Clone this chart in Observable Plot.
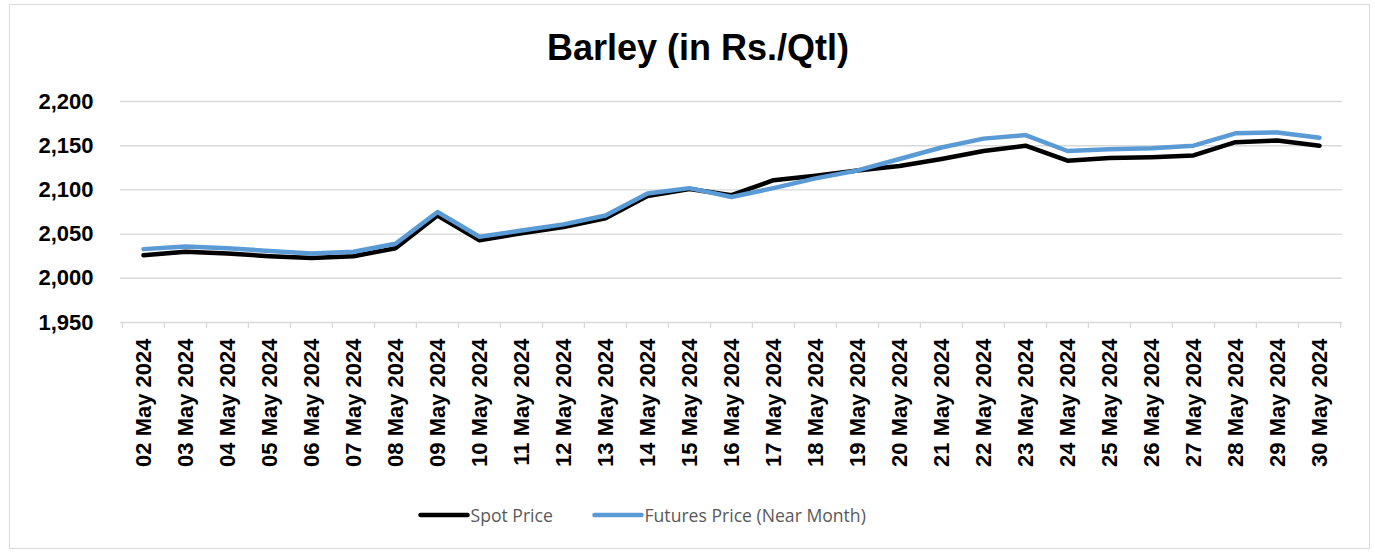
<!DOCTYPE html>
<html>
<head>
<meta charset="utf-8">
<script src="https://cdn.jsdelivr.net/npm/d3@7"></script>
<script src="https://cdn.jsdelivr.net/npm/@observablehq/plot@0.6"></script>
<style>
  html, body { margin: 0; padding: 0; background: #fff; }
  body { width: 1375px; height: 554px; position: relative; overflow: hidden; font-family: "Liberation Sans", Arial, sans-serif; }
  #frame { position: absolute; left: 9px; top: 4px; width: 1361px; height: 545px; border: 1px solid #d9d9d9; box-sizing: border-box; }
  #title { position: absolute; left: 0; width: 1396px; top: 29.5px; text-align: center; font: bold 36px/36px "Liberation Sans", Arial, sans-serif; color: #000; }
  #chart { position: absolute; left: 0; top: 0; }
  #legend .item { position: absolute; top: 503px; display: flex; align-items: center; font-family: "Open Sans", sans-serif; font-size: 17.6px; color: #595959; white-space: nowrap; }
  #legend svg { display: block; }
</style>
</head>
<body>
<div id="frame"></div>
<div id="title">Barley (in Rs./Qtl)</div>
<div id="chart"></div>
<div id="legend"></div>
<script>
const dates = ["02 May 2024","03 May 2024","04 May 2024","05 May 2024","06 May 2024","07 May 2024","08 May 2024","09 May 2024","10 May 2024","11 May 2024","12 May 2024","13 May 2024","14 May 2024","15 May 2024","16 May 2024","17 May 2024","18 May 2024","19 May 2024","20 May 2024","21 May 2024","22 May 2024","23 May 2024","24 May 2024","25 May 2024","26 May 2024","27 May 2024","28 May 2024","29 May 2024","30 May 2024"];
const spotPrice = [2026, 2030, 2028, 2025, 2023, 2025, 2034, 2071, 2043, 2051, 2058, 2068, 2093, 2101, 2094, 2111, 2116, 2122, 2127, 2135, 2144, 2150, 2133, 2136, 2137, 2139, 2154, 2156, 2150];
const futuresPrice = [2033, 2036, 2034, 2031, 2028, 2030, 2039, 2075, 2047, 2054, 2061, 2071, 2096, 2102, 2092, 2102, 2113, 2122, 2135, 2148, 2158, 2162, 2144, 2146, 2147, 2150, 2164, 2165, 2159];
const yTicks = [1950, 2000, 2050, 2100, 2150, 2200];
const seriesNames = ["Spot Price", "Futures Price (Near Month)"];
const seriesColors = ["#000000", "#5b9bd5"];

const rows = dates.map((d, i) => ({date: d, spot: spotPrice[i], futures: futuresPrice[i]}));

const W = 1375, H = 490, mL = 120, mR = 33, mT = 101, mB = 168;
const step = (W - mL - mR) / dates.length;

const chart = Plot.plot({
  width: W, height: H,
  marginTop: mT, marginBottom: mB, marginLeft: mL, marginRight: mR,
  style: {background: "transparent", fontFamily: "'Liberation Sans', Arial, sans-serif", overflow: "visible"},
  x: {type: "point", domain: dates, padding: 0.5, align: 0.5, label: null},
  y: {domain: [1950, 2200], label: null},
  marks: [
    Plot.ruleY(yTicks, {stroke: "#d9d9d9", strokeWidth: 1.4}),
    Plot.ruleX(dates, {x: d => d, y1: 1950, y2: 1950, insetBottom: -6, dx: -step / 2, stroke: "#d9d9d9", strokeWidth: 1.4}),
    Plot.ruleX([dates[dates.length - 1]], {x: d => d, y1: 1950, y2: 1950, insetBottom: -6, dx: step / 2, stroke: "#d9d9d9", strokeWidth: 1.4}),
    Plot.axisY(yTicks, {tickSize: 0, tickPadding: 27, tickFormat: d3.format(","), fontSize: 22, fontWeight: "bold", fill: "#000", label: null}),
    Plot.axisX({tickSize: 0, tickPadding: 16, tickRotate: -90, fontSize: 22, fontWeight: "bold", fill: "#000", label: null}),
    Plot.line(rows, {x: "date", y: "spot", stroke: seriesColors[0], strokeWidth: 4.5, strokeLinejoin: "round", strokeLinecap: "round"}),
    Plot.line(rows, {x: "date", y: "futures", stroke: seriesColors[1], strokeWidth: 4.5, strokeLinejoin: "round", strokeLinecap: "round"})
  ]
});
document.getElementById("chart").appendChild(chart);

const legend = document.getElementById("legend");
const itemLeft = [417.5, 591.5];
seriesNames.forEach((name, i) => {
  const item = document.createElement("div");
  item.className = "item";
  item.style.left = itemLeft[i] + "px";
  item.innerHTML = `<svg width="53" height="24"><line x1="2.5" y1="12" x2="49.5" y2="12" stroke="${seriesColors[i]}" stroke-width="4.5" stroke-linecap="round"/></svg><span>${name}</span>`;
  legend.appendChild(item);
});
</script>
</body>
</html>
